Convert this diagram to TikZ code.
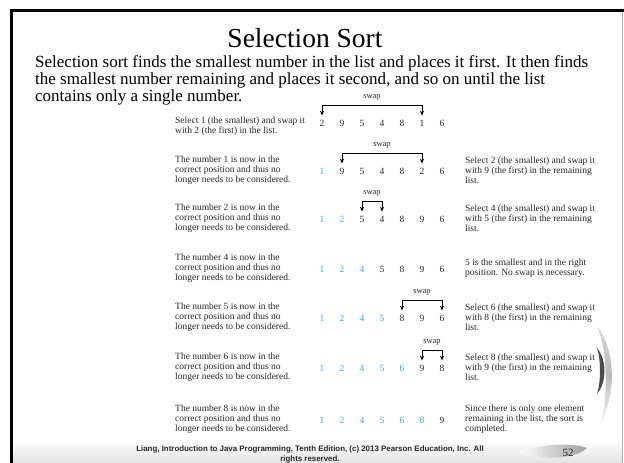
\documentclass[tikz,border=0pt]{standalone}
\usepackage{fontspec}
\setmainfont{Liberation Serif}
\newfontfamily\footfont{Liberation Sans}
\usetikzlibrary{arrows.meta,calc}
\definecolor{sortblue}{RGB}{60,170,225}
\definecolor{txtgray}{RGB}{40,40,40}
\begin{document}
\begin{tikzpicture}[x=1pt,y=-1pt,
  num/.style={font=\fontsize{9.5}{10}\selectfont, inner sep=0pt, anchor=center},
  desc/.style={font=\fontsize{9.5}{10.2}\selectfont, align=left, inner sep=0pt, anchor=west, text=txtgray},
  swapline/.style={draw, line width=0.9pt, {Stealth[length=5pt,width=4pt]}-{Stealth[length=5pt,width=4pt]}},
  swaplbl/.style={font=\fontsize{8.5}{9}\selectfont, inner sep=0pt, text=txtgray},
  bodytxt/.style={font=\fontsize{17}{17}\selectfont, inner sep=0pt, anchor=base west}]

\useasboundingbox (0,0) rectangle (624,463);
\fill[white] (0,0) rectangle (624,463);

% slide decorations
\shade[top color=white, bottom color=gray!22] (12,440) rectangle (622,463);
\draw[gray!60, line width=0.8pt] (622,10) -- (622,463);
\draw[line width=3pt] (11,463) -- (11,10) -- (624,10);
\shade[top color=gray!30, bottom color=gray!5, middle color=gray!55]
  (597,326) .. controls (616,350) and (616,395) .. (601,422)
  .. controls (608,395) and (608,352) .. (597,326) -- cycle;
\fill[gray!60!black] (597,348) .. controls (607,360) and (607,382) .. (597,394)
  .. controls (601,382) and (601,360) .. (597,348) -- cycle;
\shade[left color=white, right color=gray!75]
  (518,452) .. controls (545,443) and (575,443) .. (587,448)
  .. controls (575,459) and (545,461) .. (518,452) -- cycle;
\node[font=\fontsize{11}{12}\selectfont, text=gray!30!black, inner sep=0pt] (pg) at (568,453) {52};

% title and intro
\node[font=\fontsize{27.5}{30}\selectfont, inner sep=0pt, anchor=base] (title) at (305,47) {Selection Sort};
\node[bodytxt] (b1) at (35,67) {Selection sort finds the smallest number in the list and places it first. It then finds};
\node[bodytxt] (b2) at (35,84) {the smallest number remaining and places it second, and so on until the list};
\node[bodytxt] (b3) at (35,101) {contains only a single number.};

% number rows
\foreach \r/\y/\vals/\k in {1/123/{2,9,5,4,8,1,6}/0, 2/171/{1,9,5,4,8,2,6}/1,
    3/219/{1,2,5,4,8,9,6}/2, 4/269/{1,2,4,5,8,9,6}/3, 5/318/{1,2,4,5,8,9,6}/4,
    6/368/{1,2,4,5,6,9,8}/5, 7/420/{1,2,4,5,6,8,9}/6} {
  \foreach \v [count=\c] in \vals {
    \ifnum\c>\k \def\col{txtgray}\else\def\col{sortblue}\fi
    \node[num, text=\col] (n-\r-\c) at ({302+20*\c},\y) {\v};
  }
}

% swaps
\foreach \r/\a/\b in {1/1/6, 2/2/6, 3/3/4, 5/5/7, 6/6/7} {
  \draw[swapline] ([yshift=4pt]n-\r-\a.north) -- ++(0,-10) -| ([yshift=4pt]n-\r-\b.north);
  \node[swaplbl] (s-\r) at ($($(n-\r-\a)!0.5!(n-\r-\b)$)+(0,-26)$) {swap};
}

% left descriptions
\node[desc] (l1) at (175,126) {Select 1 (the smallest) and swap it\\with 2 (the first) in the list.};
\node[desc] (l2) at (175,170) {The number 1 is now in the\\correct position and thus no\\longer needs to be considered.};
\node[desc] (l3) at (175,218) {The number 2 is now in the\\correct position and thus no\\longer needs to be considered.};
\node[desc] (l4) at (175,268) {The number 4 is now in the\\correct position and thus no\\longer needs to be considered.};
\node[desc] (l5) at (175,317) {The number 5 is now in the\\correct position and thus no\\longer needs to be considered.};
\node[desc] (l6) at (175,367) {The number 6 is now in the\\correct position and thus no\\longer needs to be considered.};
\node[desc] (l7) at (175,419) {The number 8 is now in the\\correct position and thus no\\longer needs to be considered.};

% right descriptions
\node[desc] (r2) at (465,170) {Select 2 (the smallest) and swap it\\with 9 (the first) in the remaining\\list.};
\node[desc] (r3) at (465,218) {Select 4 (the smallest) and swap it\\with 5 (the first) in the remaining\\list.};
\node[desc] (r4) at (465,268) {5 is the smallest and in the right\\position. No swap is necessary.};
\node[desc] (r5) at (465,317) {Select 6 (the smallest) and swap it\\with 8 (the first) in the remaining\\list.};
\node[desc] (r6) at (465,367) {Select 8 (the smallest) and swap it\\with 9 (the first) in the remaining\\list.};
\node[desc] (r7) at (465,419) {Since there is only one element\\remaining in the list, the sort is\\completed.};

% footer
\node[font=\footfont\bfseries\fontsize{7.9}{10}\selectfont, align=center, inner sep=0pt, text=txtgray] (foot) at (310,454)
  {Liang, Introduction to Java Programming, Tenth Edition, (c) 2013 Pearson Education, Inc. All\\rights reserved.};
\end{tikzpicture}
\end{document}
